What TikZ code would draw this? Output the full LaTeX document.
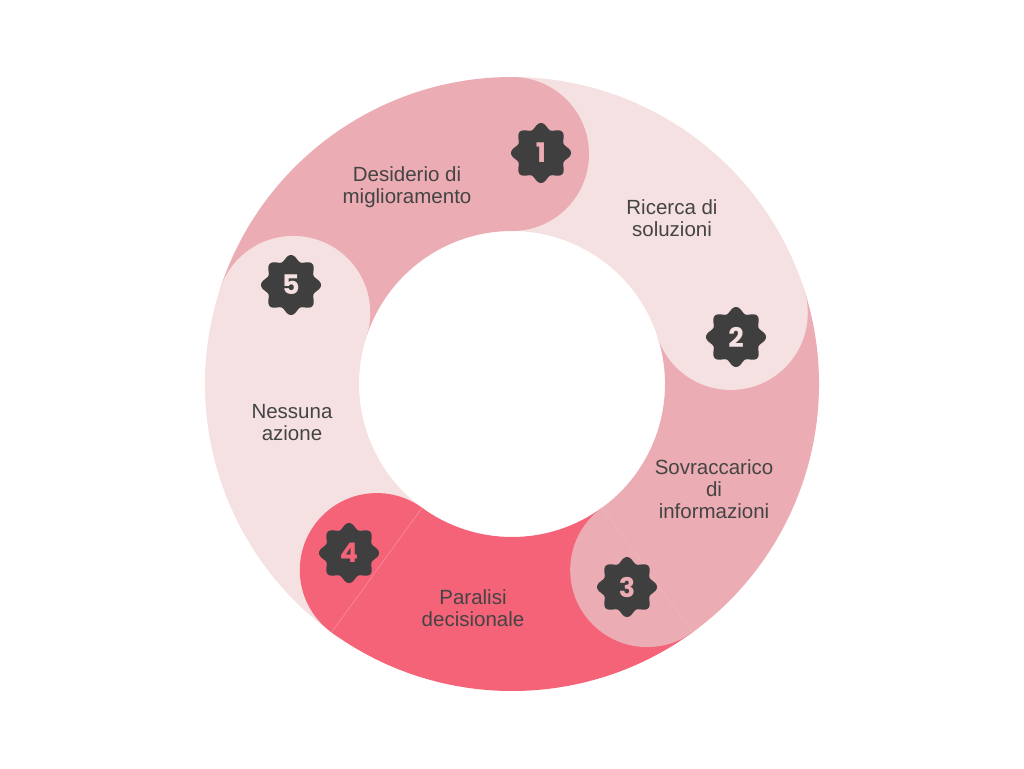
\documentclass[tikz,border=0pt]{standalone}
\usepackage{fontspec}
\setmainfont{Liberation Sans}
\newfontfamily\numfont{Poppins}
\usetikzlibrary{calc}
\definecolor{pinkA}{HTML}{EBACB3}
\definecolor{lightA}{HTML}{F5E1E1}
\definecolor{redA}{HTML}{F46378}
\definecolor{badgeC}{HTML}{3F3F3F}
\definecolor{txtC}{HTML}{444444}
\newcommand\Ro{307}
\newcommand\Ri{153}
\newcommand\Rm{230}
\newcommand\Rc{77}
\newcommand\ringsector[3]{%
  \fill[#3] ($(c)+(#1:\Ro)$) arc[start angle=#1, end angle=#2, radius=\Ro]
    -- ($(c)+(#2:\Ri)$) arc[start angle=#2, end angle=#1, radius=\Ri] -- cycle;}
\newcommand\ringcap[2]{\fill[#2] ($(c)+(#1:\Rm)$) circle[radius=\Rc];}
\newcommand\ringseam[2]{\draw[seam, opacity=#2] ($(c)+(#1:\Ri)$) -- ($(c)+(#1:\Ro)$);}
\newcommand\badge[4]{%
  \fill[badgeC, shift={(#1)}] plot[domain=0:357.75, samples=160, smooth cycle] (\x:{27.2+2.8*cos(8*\x)});
  \node[numlbl, text=#3] (#4) at (#1) {#2};}
\begin{document}
\begin{tikzpicture}[x=1pt,y=1pt,
  lbl/.style={align=center, text=txtC, font=\fontsize{20.5}{22}\selectfont},
  numlbl/.style={font=\numfont\bfseries\fontsize{27}{27}\selectfont, inner sep=0pt},
  seam/.style={white, line width=0.5pt}]
\useasboundingbox (0,0) rectangle (1024,-768);
\fill[white] (0,0) rectangle (1024,-768);
\coordinate (c) at (512,-384);
% sectors
\ringsector{90}{162}{pinkA}
\ringsector{18}{90}{lightA}
\ringsector{-54}{18}{pinkA}
\ringsector{-126}{-54}{redA}
\ringsector{162}{234}{lightA}
% round caps
\ringcap{90}{pinkA}
\ringcap{18}{lightA}
\ringcap{-54}{pinkA}
\ringcap{-126}{redA}
\ringcap{162}{lightA}
% seams
\ringseam{-126}{0.3}
\ringseam{-54}{0.15}
% badges
\badge{541,-153}{1}{pinkA}{b1}
\badge{736,-337}{2}{lightA}{b2}
\badge{627,-587}{3}{pinkA}{b3}
\badge{349,-553}{4}{redA}{b4}
\badge{291,-285}{5}{lightA}{b5}
% labels
\node[lbl] (t1) at (407,-187) {Desiderio di\\miglioramento};
\node[lbl] (t2) at (672,-218) {Ricerca di\\soluzioni};
\node[lbl] (t3) at (714,-489) {Sovraccarico\\di\\informazioni};
\node[lbl] (t4) at (473,-608) {Paralisi\\decisionale};
\node[lbl] (t5) at (292,-423) {Nessuna\\azione};
\end{tikzpicture}
\end{document}
